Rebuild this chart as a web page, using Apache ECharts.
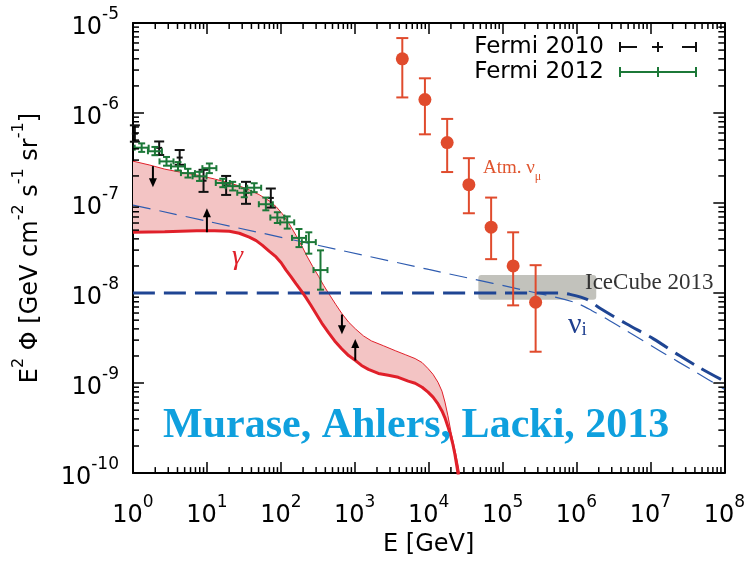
<!DOCTYPE html>
<html>
<head>
<meta charset="utf-8">
<script src="https://cdn.jsdelivr.net/npm/echarts@6/dist/echarts.min.js"></script>
<style>
html, body { margin: 0; padding: 0; background: #fff; }
#chart { width: 748px; height: 562px; }
</style>
</head>
<body>
<div id="chart"></div>
<script>
// decade exponents used for the tick labels
var xExps = [0, 1, 2, 3, 4, 5, 6, 7, 8];
var yExps = [-10, -9, -8, -7, -6, -5];

// Fermi 2010 IGRB
var fermi10E = [1.06, 2.26, 4.28, 9.0, 18.2, 33.8, 73.2];
var fermi10Val = [5.9e-7, 4.1e-7, 3.2e-7, 1.77e-7, 1.57e-7, 1.3e-7, 1.14e-7];
var fermi10Lo = [4.8e-7, 3.42e-7, 2.66e-7, 1.33e-7, 1.23e-7, 9.8e-8, 8.9e-8];
var fermi10Hi = [7.3e-7, 4.83e-7, 3.88e-7, 2.34e-7, 2.0e-7, 1.72e-7, 1.45e-7];

// Fermi 2012 IGRB
var fermi12E = [1.31, 1.98, 2.84, 4.06, 5.54, 7.95, 10.8, 16.4, 22.3, 32.0, 43.6, 62.7, 89.7, 122, 176, 239, 344];
var fermi12Val = [4.12e-7, 3.76e-7, 2.9e-7, 2.55e-7, 2.15e-7, 1.98e-7, 2.44e-7, 1.67e-7, 1.54e-7, 1.3e-7, 1.48e-7, 9.7e-8, 6.9e-8, 6.1e-8, 4.1e-8, 3.68e-8, 1.8e-8];
var fermi12Lo = [3.7e-7, 3.4e-7, 2.6e-7, 2.3e-7, 1.92e-7, 1.76e-7, 2.15e-7, 1.5e-7, 1.38e-7, 1.16e-7, 1.32e-7, 8.3e-8, 6.0e-8, 5.2e-8, 3.24e-8, 2.74e-8, 1.09e-8];
var fermi12Hi = [4.6e-7, 4.2e-7, 3.25e-7, 2.85e-7, 2.4e-7, 2.22e-7, 2.75e-7, 1.86e-7, 1.72e-7, 1.46e-7, 1.66e-7, 1.15e-7, 7.9e-8, 7.1e-8, 5.15e-8, 4.73e-8, 2.98e-8];

// atmospheric muon neutrinos
var atmE = [4400, 8900, 17800, 35000, 70000, 139000, 280000];
var atmVal = [4.0e-6, 1.41e-6, 4.7e-7, 1.6e-7, 5.4e-8, 2.0e-8, 7.9e-9];
var atmLo = [1.49e-6, 5.8e-7, 2.21e-7, 7.7e-8, 2.38e-8, 7.3e-9, 2.23e-9];
var atmHi = [6.8e-6, 2.43e-6, 8.6e-7, 3.15e-7, 1.15e-7, 4.73e-8, 2.04e-8];

// gamma-ray band, upper edge (thin line)
var gammaHiE = [1, 1.69, 2.69, 4.28, 7.25, 12.7, 20.1, 27.4, 37.4, 50.9, 69.4, 86.2, 104, 129, 160, 193, 225, 271, 326, 381, 444, 552, 665, 825, 1025, 1313, 1682, 2439, 3535, 4818, 6565, 8152, 9815, 11460, 13380, 15140, 16610, 18230, 20010, 21950, 23350, 24850, 26420, 28110];
var gammaHi = [2.92e-7, 2.64e-7, 2.38e-7, 2.21e-7, 2.05e-7, 1.85e-7, 1.67e-7, 1.55e-7, 1.40e-7, 1.24e-7, 1.06e-7, 9.13e-8, 7.65e-8, 5.94e-8, 4.39e-8, 3.32e-8, 2.58e-8, 1.96e-8, 1.52e-8, 1.21e-8, 9.90e-9, 7.50e-9, 5.97e-9, 4.76e-9, 3.99e-9, 3.34e-9, 2.94e-9, 2.60e-9, 2.29e-9, 2.07e-9, 1.87e-9, 1.69e-9, 1.45e-9, 1.25e-9, 1.02e-9, 8.13e-10, 6.16e-10, 4.33e-10, 2.89e-10, 2.03e-10, 1.62e-10, 1.26e-10, 9.50e-11, 7.02e-11];
// gamma-ray band, lower edge (thick line)
var gammaLoE = [1, 2.69, 7.25, 12.7, 20.1, 27.4, 37.4, 46.4, 55.9, 69.4, 86.2, 101, 117, 137, 160, 187, 218, 255, 297, 358, 444, 535, 665, 825, 1025, 1234, 1532, 2089, 2847, 3879, 5287, 6565, 8152, 9815, 11460, 13380, 15140, 16610, 18230, 20010, 21280, 22640, 24080, 25620];
var gammaLo = [4.74e-8, 4.80e-8, 4.92e-8, 4.92e-8, 4.86e-8, 4.62e-8, 4.18e-8, 3.82e-8, 3.41e-8, 2.93e-8, 2.52e-8, 2.17e-8, 1.81e-8, 1.52e-8, 1.27e-8, 1.07e-8, 8.95e-9, 7.31e-9, 5.97e-9, 4.64e-9, 3.61e-9, 2.94e-9, 2.41e-9, 2.02e-9, 1.78e-9, 1.57e-9, 1.42e-9, 1.28e-9, 1.22e-9, 1.16e-9, 1.05e-9, 9.95e-10, 8.99e-10, 7.93e-10, 6.99e-10, 5.86e-10, 4.91e-10, 4.11e-10, 3.28e-10, 2.54e-10, 2.08e-10, 1.62e-10, 1.19e-10, 8.59e-11];

// neutrino fluxes
var nuE = [1, 6.0e5, 8.2e5, 1.39e6, 2.08e6, 4.79e6, 1.1e7, 2.47e7, 4.58e7, 1e8];
var nuFlux = [1e-8, 1e-8, 9.66e-9, 8.5e-9, 6.78e-9, 4.53e-9, 3.1e-9, 2.02e-9, 1.49e-9, 1.05e-9];
var nuThinE = [1, 1e4, 5.48e5, 1.02e6, 1.62e6, 2.58e6, 4.79e6, 1.33e7, 4.18e7, 1e8];
var nuThinFlux = [9.5e-8, 1.83e-8, 8.9e-9, 7.69e-9, 6.37e-9, 5.14e-9, 3.79e-9, 2.29e-9, 1.31e-9, 8.55e-10];

// IceCube 2013 box
var iceE = [4.7e4, 1.85e6];
var iceFlux = [8.45e-9, 1.59e-8];

// arrows on the band
var arrowE = [1.86, 10, 671, 1016];
var arrowFrom = [2.57e-7, 4.74e-8, 5.78e-9, 1.78e-9];
var arrowTo = [1.5e-7, 8.75e-8, 3.49e-9, 3.08e-9];

var xMin = 1, xMax = 1e8, yMin = 1e-10, yMax = 1e-5;

function zip() {
    var args = arguments, out = [];
    for (var i = 0; i < args[0].length; i++) {
        var row = [];
        for (var j = 0; j < args.length; j++) row.push(args[j][i]);
        out.push(row);
    }
    return out;
}

function errRender(color, cap, hw) {
    return function (params, api) {
        var x = api.value(0);
        var c = api.coord([x, api.value(1)]);
        var lo = api.coord([x, api.value(2)]);
        var hi = api.coord([x, api.value(3)]);
        var st = { stroke: color, lineWidth: 2 };
        var kids = [
            { type: 'line', shape: { x1: c[0], y1: lo[1], x2: c[0], y2: hi[1] }, style: st },
            { type: 'line', shape: { x1: c[0] - cap, y1: lo[1], x2: c[0] + cap, y2: lo[1] }, style: st },
            { type: 'line', shape: { x1: c[0] - cap, y1: hi[1], x2: c[0] + cap, y2: hi[1] }, style: st }
        ];
        if (hw) {
            kids.push({ type: 'line', shape: { x1: c[0] - hw, y1: c[1], x2: c[0] + hw, y2: c[1] }, style: st });
            kids.push({ type: 'line', shape: { x1: c[0] - hw, y1: c[1] - 3, x2: c[0] - hw, y2: c[1] + 3 }, style: st });
            kids.push({ type: 'line', shape: { x1: c[0] + hw, y1: c[1] - 3, x2: c[0] + hw, y2: c[1] + 3 }, style: st });
        } else {
            kids.push({ type: 'line', shape: { x1: c[0] - 3, y1: c[1], x2: c[0] + 3, y2: c[1] }, style: st });
        }
        return { type: 'group', children: kids };
    };
}

function bandRender(params, api) {
    var pts = [], i;
    for (i = 0; i < gammaHiE.length; i++) pts.push(api.coord([gammaHiE[i], gammaHi[i]]));
    for (i = gammaLoE.length - 1; i >= 0; i--) pts.push(api.coord([gammaLoE[i], gammaLo[i]]));
    return { type: 'polygon', shape: { points: pts }, style: { fill: '#f3c4c4' } };
}

function tickRender(params, api) {
    var kids = [];
    var st = { stroke: '#000', lineWidth: 1.5 };
    var d, k, v, a, b;
    for (d = 0; d < 8; d++) {
        for (k = 2; k < 10; k++) {
            v = k * Math.pow(10, d);
            a = api.coord([v, yMin]);
            b = api.coord([v, yMax]);
            kids.push({ type: 'line', shape: { x1: a[0], y1: a[1], x2: a[0], y2: a[1] - 6 }, style: st });
            kids.push({ type: 'line', shape: { x1: b[0], y1: b[1], x2: b[0], y2: b[1] + 6 }, style: st });
        }
    }
    for (d = -10; d < -5; d++) {
        for (k = 2; k < 10; k++) {
            v = k * Math.pow(10, d);
            a = api.coord([xMin, v]);
            b = api.coord([xMax, v]);
            kids.push({ type: 'line', shape: { x1: a[0], y1: a[1], x2: a[0] + 6, y2: a[1] }, style: st });
            kids.push({ type: 'line', shape: { x1: b[0], y1: b[1], x2: b[0] - 6, y2: b[1] }, style: st });
        }
    }
    return { type: 'group', children: kids };
}

function arrowRender(params, api) {
    var p = api.coord([api.value(0), api.value(1)]);
    var q = api.coord([api.value(0), api.value(2)]);
    var dir = q[1] > p[1] ? 1 : -1;
    var st = { stroke: '#000', lineWidth: 2 };
    return {
        type: 'group',
        children: [
            { type: 'line', shape: { x1: p[0], y1: p[1], x2: q[0], y2: q[1] - dir * 6 }, style: st },
            { type: 'polygon', shape: { points: [[q[0] - 4, q[1] - dir * 9], [q[0] + 4, q[1] - dir * 9], [q[0], q[1]]] }, style: { fill: '#000' } }
        ]
    };
}

function iceRender(params, api) {
    var a = api.coord([iceE[0], iceFlux[1]]);
    var b = api.coord([iceE[1], iceFlux[0]]);
    return {
        type: 'rect',
        shape: { x: a[0], y: a[1], width: b[0] - a[0], height: b[1] - a[1], r: 3 },
        style: { fill: '#c2c2bc' }
    };
}

var labelRich = {
    b: { fontSize: 24, fontFamily: 'DejaVu Sans', color: '#000', lineHeight: 34, verticalAlign: 'bottom' },
    s: { fontSize: 17, fontFamily: 'DejaVu Sans', color: '#000', lineHeight: 17, verticalAlign: 'top' }
};

function expLabel(list) {
    return function (v) {
        var e = Math.round(Math.log(v) / Math.LN10);
        if (list.indexOf(e) < 0) return '';
        return '{b|10}{s|' + e + '}';
    };
}

var chart = echarts.init(document.getElementById('chart'));
chart.setOption({
    animation: false,
    backgroundColor: '#fff',
    grid: { left: 133, right: 20, top: 23, bottom: 83 },
    xAxis: [{
        type: 'log', logBase: 10, min: xMin, max: xMax, splitNumber: 8,
        name: 'E [GeV]', nameLocation: 'middle', nameGap: 54,
        nameTextStyle: { fontSize: 24, fontFamily: 'DejaVu Sans', color: '#000' },
        axisLine: { lineStyle: { color: '#000', width: 2 } },
        axisTick: { inside: true, length: 11, lineStyle: { color: '#000', width: 1.5 } },
        axisLabel: { margin: 21, formatter: expLabel(xExps), rich: labelRich },
        splitLine: { show: false }
    }, {
        type: 'log', logBase: 10, min: xMin, max: xMax, splitNumber: 8, position: 'top',
        axisLine: { lineStyle: { color: '#000', width: 2 } },
        axisTick: { inside: true, length: 11, lineStyle: { color: '#000', width: 1.5 } },
        axisLabel: { show: false }, splitLine: { show: false }
    }],
    yAxis: [{
        type: 'log', logBase: 10, min: yMin, max: yMax, splitNumber: 5,
        name: '{a|E}{s|2}{a| Φ [GeV cm}{s|-2}{a| s}{s|-1}{a| sr}{s|-1}{a|]}',
        nameLocation: 'middle', nameGap: 90, nameRotate: 90,
        nameTextStyle: {
            rich: {
                a: { fontSize: 24, fontFamily: 'DejaVu Sans', color: '#000', lineHeight: 32, verticalAlign: 'bottom' },
                s: { fontSize: 16, fontFamily: 'DejaVu Sans', color: '#000', lineHeight: 16, verticalAlign: 'top' }
            }
        },
        axisLine: { lineStyle: { color: '#000', width: 2 } },
        axisTick: { inside: true, length: 11, lineStyle: { color: '#000', width: 1.5 } },
        axisLabel: { margin: 14, formatter: expLabel(yExps), rich: labelRich },
        splitLine: { show: false }
    }, {
        type: 'log', logBase: 10, min: yMin, max: yMax, splitNumber: 5, position: 'right',
        axisLine: { lineStyle: { color: '#000', width: 2 } },
        axisTick: { inside: true, length: 11, lineStyle: { color: '#000', width: 1.5 } },
        axisLabel: { show: false }, splitLine: { show: false }
    }],
    series: [
        {
            name: 'IceCube 2013', type: 'custom', z: 1,
            data: [[iceE[0], iceFlux[0]]], renderItem: iceRender, clip: true
        },
        {
            name: 'gamma band', type: 'custom', z: 2, clip: true,
            data: [[gammaLoE[0], gammaLo[0]]], renderItem: bandRender
        },
        {
            name: 'gamma upper', type: 'line', z: 3,
            data: zip(gammaHiE, gammaHi), symbol: 'none',
            lineStyle: { color: '#e0202a', width: 1 }
        },
        {
            name: 'gamma lower', type: 'line', z: 4,
            data: zip(gammaLoE, gammaLo), symbol: 'none',
            lineStyle: { color: '#e0202a', width: 3 }
        },
        {
            name: 'nu thin', type: 'line', z: 3,
            data: zip(nuThinE, nuThinFlux), symbol: 'none', smooth: 0.3,
            lineStyle: { color: '#2f5cb0', width: 1.2, type: [18, 9] }
        },
        {
            name: 'nu', type: 'line', z: 3,
            data: zip(nuE, nuFlux), symbol: 'none', smooth: 0.3,
            lineStyle: { color: '#1f4593', width: 3, type: [22, 9] }
        },
        {
            name: 'Fermi 2010', type: 'custom', z: 5,
            data: zip(fermi10E, fermi10Val, fermi10Lo, fermi10Hi),
            renderItem: errRender('#111', 5, 0)
        },
        {
            name: 'Fermi 2012', type: 'custom', z: 5,
            data: zip(fermi12E, fermi12Val, fermi12Lo, fermi12Hi),
            renderItem: errRender('#1c7838', 3.5, 7)
        },
        {
            name: 'Atm err', type: 'custom', z: 5,
            data: zip(atmE, atmVal, atmLo, atmHi),
            renderItem: errRender('#e04b2d', 6, 0)
        },
        {
            name: 'Atm', type: 'scatter', z: 6,
            data: zip(atmE, atmVal), symbol: 'circle', symbolSize: 13,
            itemStyle: { color: '#e04b2d', opacity: 1 }
        },
        {
            name: 'arrows', type: 'custom', z: 6,
            data: zip(arrowE, arrowFrom, arrowTo), renderItem: arrowRender
        },
        {
            name: 'minor ticks', type: 'custom', z: 7, clip: false,
            data: [[xMin, yMin]], renderItem: tickRender
        }
    ],
    graphic: [
        { type: 'text', x: 604, y: 47, style: { text: 'Fermi 2010', font: '23px DejaVu Sans', fill: '#000', textAlign: 'right', textVerticalAlign: 'middle' } },
        { type: 'text', x: 604, y: 72, style: { text: 'Fermi 2012', font: '23px DejaVu Sans', fill: '#000', textAlign: 'right', textVerticalAlign: 'middle' } },
        { type: 'line', shape: { x1: 620, y1: 47, x2: 637, y2: 47 }, style: { stroke: '#111', lineWidth: 2 } },
        { type: 'line', shape: { x1: 652, y1: 47, x2: 663, y2: 47 }, style: { stroke: '#111', lineWidth: 2 } },
        { type: 'line', shape: { x1: 682, y1: 47, x2: 696, y2: 47 }, style: { stroke: '#111', lineWidth: 2 } },
        { type: 'line', shape: { x1: 620, y1: 42, x2: 620, y2: 52 }, style: { stroke: '#111', lineWidth: 2 } },
        { type: 'line', shape: { x1: 658, y1: 42, x2: 658, y2: 52 }, style: { stroke: '#111', lineWidth: 2 } },
        { type: 'line', shape: { x1: 696, y1: 42, x2: 696, y2: 52 }, style: { stroke: '#111', lineWidth: 2 } },
        { type: 'line', shape: { x1: 620, y1: 72, x2: 696, y2: 72 }, style: { stroke: '#1c7838', lineWidth: 2 } },
        { type: 'line', shape: { x1: 620, y1: 67, x2: 620, y2: 77 }, style: { stroke: '#1c7838', lineWidth: 2 } },
        { type: 'line', shape: { x1: 658, y1: 67, x2: 658, y2: 77 }, style: { stroke: '#1c7838', lineWidth: 2 } },
        { type: 'line', shape: { x1: 696, y1: 67, x2: 696, y2: 77 }, style: { stroke: '#1c7838', lineWidth: 2 } },
        {
            type: 'text', x: 483, y: 171, z: 10,
            style: {
                text: '{a|Atm. ν}{u|μ}', textVerticalAlign: 'middle',
                rich: {
                    a: { fontSize: 19, fontFamily: 'Liberation Serif', fill: '#e0552f', lineHeight: 24, verticalAlign: 'top' },
                    u: { fontSize: 12, fontFamily: 'Liberation Serif', fill: '#e0552f', lineHeight: 12, verticalAlign: 'bottom' }
                }
            }
        },
        { type: 'text', x: 585, y: 283, z: 10, style: { text: 'IceCube 2013', font: '23px Liberation Serif', fill: '#333', textVerticalAlign: 'middle' } },
        {
            type: 'text', x: 568, y: 325, z: 10,
            style: {
                text: '{a|ν}{u|i}', textVerticalAlign: 'middle',
                rich: {
                    a: { fontSize: 30, fontFamily: 'Liberation Serif', fill: '#1f3f8f', lineHeight: 30, verticalAlign: 'top' },
                    u: { fontSize: 19, fontFamily: 'Liberation Serif', fill: '#1f3f8f', lineHeight: 19, verticalAlign: 'bottom' }
                }
            }
        },
        { type: 'text', x: 232, y: 257, z: 10, style: { text: 'γ', font: 'italic 28px Liberation Serif', fill: '#e0202a', textVerticalAlign: 'middle' } },
        { type: 'text', x: 163, y: 426, z: 10, style: { text: 'Murase, Ahlers, Lacki, 2013', font: 'bold 42px Liberation Serif', fill: '#0fa0de', textVerticalAlign: 'middle' } }
    ]
});
</script>
</body>
</html>
